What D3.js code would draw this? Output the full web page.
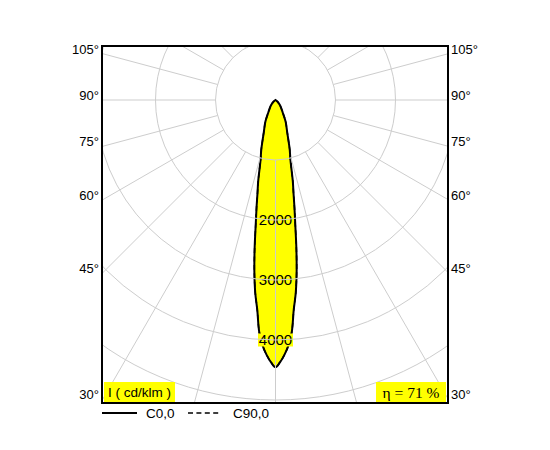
<!DOCTYPE html>
<html>
<head>
<meta charset="utf-8">
<script src="https://cdn.jsdelivr.net/npm/d3@7/dist/d3.min.js"></script>
<style>
  body { margin: 0; background: #fff; }
</style>
</head>
<body>
<div id="chart"></div>
<script>
// --- data ---
// angle from nadir (deg) and intensity (cd/klm)
const angles   = [0, 1, 2, 3, 4, 5, 6, 7, 8, 9, 10, 11, 12, 14, 16, 18, 20, 25, 30, 40, 50, 60, 90];
const c0Values = [4455, 4370, 4250, 4100, 3880, 3500, 3230, 2890, 2500, 2110, 1820, 1570, 1390, 1030, 860, 690, 570, 400, 240, 120, 40, 0, 0];
const c90Values = [4455, 4370, 4250, 4100, 3880, 3500, 3230, 2890, 2500, 2110, 1820, 1570, 1390, 1030, 860, 690, 570, 400, 240, 120, 40, 0, 0];
const angleTicks = [30, 45, 60, 75, 90, 105];
const intensityTicks = [2000, 3000, 4000];
const gridRings = [1000, 2000, 3000, 4000, 5000, 6000];
const legendNames = ["C0,0", "C90,0"];
const unitLabel = "I ( cd/klm )";
const efficiencyLabel = "η = 71 %";

// --- layout ---
const w = 550, h = 450;
const frame = { left: 102, top: 46, right: 448, bottom: 403 };
const cx = 275.5, cy = 100;   // light source position
const gridColor = "#cdcdcd";

const svg = d3.select("#chart").append("svg")
  .attr("width", w)
  .attr("height", h);

// radius scale: 1000 cd/klm = 60 px
const rScale = d3.scaleLinear().domain([0, 1000]).range([0, 60]);
const toRad = d => d * Math.PI / 180;

svg.append("clipPath").attr("id", "frameClip")
  .append("rect")
  .attr("x", frame.left).attr("y", frame.top)
  .attr("width", frame.right - frame.left)
  .attr("height", frame.bottom - frame.top);

// build the closed curve: left half mirrored, then right half
function curvePoints(values) {
  const pts = angles.map((a, i) => ({ a: a, v: values[i] }));
  const left = pts.slice(1).reverse().map(d => ({ a: -d.a, v: d.v }));
  return left.concat(pts);
}

const radial = d3.lineRadial()
  .angle(d => Math.PI - toRad(d.a))
  .radius(d => rScale(d.v))
  .curve(d3.curveCatmullRom);

const plot = svg.append("g").attr("transform", "translate(" + cx + "," + cy + ")");

// filled lobe (under the grid)
plot.append("path")
  .attr("d", radial(curvePoints(c0Values)) + "Z")
  .attr("fill", "#ffff00")
  .attr("stroke", "none");

// grid
const grid = svg.append("g").attr("clip-path", "url(#frameClip)")
  .append("g").attr("transform", "translate(" + cx + "," + cy + ")");

grid.selectAll("circle")
  .data(gridRings)
  .enter()
  .append("circle")
  .attr("r", d => rScale(d))
  .attr("fill", "none")
  .attr("stroke", gridColor)
  .attr("stroke-width", 1);

grid.selectAll("line")
  .data(d3.range(0, 360, 15))
  .enter()
  .append("line")
  .attr("x1", d => rScale(1000) * Math.sin(toRad(d)))
  .attr("y1", d => rScale(1000) * Math.cos(toRad(d)))
  .attr("x2", d => rScale(8000) * Math.sin(toRad(d)))
  .attr("y2", d => rScale(8000) * Math.cos(toRad(d)))
  .attr("stroke", gridColor)
  .attr("stroke-width", 1);

// C90 dashed curve, then C0 solid on top
plot.append("path")
  .attr("d", radial(curvePoints(c90Values)) + "Z")
  .attr("fill", "none")
  .attr("stroke", "#000")
  .attr("stroke-width", 1.5)
  .attr("stroke-dasharray", "5,3.4");

plot.append("path")
  .attr("d", radial(curvePoints(c0Values)) + "Z")
  .attr("fill", "none")
  .attr("stroke", "#000")
  .attr("stroke-width", 2)
  .attr("stroke-linejoin", "miter");

// intensity labels along nadir
const ilab = plot.selectAll("g.ilab")
  .data(intensityTicks)
  .enter()
  .append("g")
  .attr("class", "ilab")
  .attr("transform", d => "translate(0," + rScale(d) + ")");

ilab.append("rect")
  .attr("x", -17.5).attr("y", -6.5)
  .attr("width", 35).attr("height", 13)
  .attr("fill", "#ffff00");

ilab.append("text")
  .text(d => d)
  .attr("text-anchor", "middle")
  .attr("y", 5.4)
  .attr("font-family", "Liberation Sans, Arial, sans-serif")
  .attr("font-size", "15px")
  .attr("fill", "#000");

// frame
svg.append("rect")
  .attr("x", frame.left).attr("y", frame.top)
  .attr("width", frame.right - frame.left)
  .attr("height", frame.bottom - frame.top)
  .attr("fill", "none")
  .attr("stroke", "#000")
  .attr("stroke-width", 2);

// angle labels where each radial meets the side of the frame
const labelY = a => cy + (frame.right - cx) / Math.tan(toRad(a));

svg.selectAll("text.angL")
  .data(angleTicks)
  .enter()
  .append("text")
  .attr("class", "angL")
  .text(d => d + "°")
  .attr("x", 99)
  .attr("y", d => labelY(d))
  .attr("text-anchor", "end")
  .attr("font-family", "Liberation Sans, Arial, sans-serif")
  .attr("font-size", "13px")
  .attr("fill", "#000");

svg.selectAll("text.angR")
  .data(angleTicks)
  .enter()
  .append("text")
  .attr("class", "angR")
  .text(d => d + "°")
  .attr("x", 451)
  .attr("y", d => labelY(d))
  .attr("text-anchor", "start")
  .attr("font-family", "Liberation Sans, Arial, sans-serif")
  .attr("font-size", "13px")
  .attr("fill", "#000");

// unit box, bottom left
svg.append("rect")
  .attr("x", 104).attr("y", 382)
  .attr("width", 71).attr("height", 20)
  .attr("fill", "#ffff00");
svg.append("text")
  .text(unitLabel)
  .attr("x", 108).attr("y", 397)
  .attr("font-family", "Liberation Sans, Arial, sans-serif")
  .attr("font-size", "13.5px")
  .attr("fill", "#000");

// efficiency box, bottom right
svg.append("rect")
  .attr("x", 376).attr("y", 382)
  .attr("width", 70).attr("height", 20)
  .attr("fill", "#ffff00");
svg.append("text")
  .text(efficiencyLabel)
  .attr("x", 411).attr("y", 397.5)
  .attr("text-anchor", "middle")
  .attr("font-family", "Liberation Serif, Times New Roman, serif")
  .attr("font-size", "15.5px")
  .attr("fill", "#000");

// legend
svg.append("line")
  .attr("x1", 102).attr("x2", 137)
  .attr("y1", 413).attr("y2", 413)
  .attr("stroke", "#000").attr("stroke-width", 2);
svg.append("line")
  .attr("x1", 188).attr("x2", 219)
  .attr("y1", 413).attr("y2", 413)
  .attr("stroke", "#000").attr("stroke-width", 1.5)
  .attr("stroke-dasharray", "5,3.4");

svg.selectAll("text.leg")
  .data(legendNames)
  .enter()
  .append("text")
  .attr("class", "leg")
  .text(d => d)
  .attr("x", (d, i) => i === 0 ? 146 : 233)
  .attr("y", 418)
  .attr("font-family", "Liberation Sans, Arial, sans-serif")
  .attr("font-size", "13.5px")
  .attr("fill", "#000");
</script>
</body>
</html>
